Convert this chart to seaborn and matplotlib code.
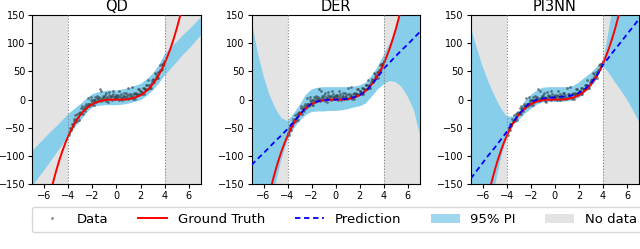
import matplotlib
matplotlib.use("Agg")
import matplotlib.pyplot as plt
import seaborn as sns
import pandas as pd
from matplotlib.lines import Line2D
from matplotlib.patches import Patch

# noisy training samples (same in every panel)
x_a = [-3.95, -3.85, -3.75, -3.65, -3.55, -3.45, -3.35, -3.25, -3.15, -3.05,
       -2.95, -2.85, -2.75, -2.65, -2.55, -2.45, -2.35, -2.25, -2.15, -2.05,
       -1.95, -1.85, -1.75, -1.65, -1.55, -1.45, -1.35, -1.25, -1.15, -1.05,
       -0.95, -0.85, -0.75, -0.65, -0.55, -0.45, -0.35, -0.25, -0.15, -0.05,
       0.05, 0.15, 0.25, 0.35, 0.45, 0.55, 0.65, 0.75, 0.85, 0.95,
       1.05, 1.15, 1.25, 1.35, 1.45, 1.55, 1.65, 1.75, 1.85, 1.95,
       2.05, 2.15, 2.25, 2.35, 2.45, 2.55, 2.65, 2.75, 2.85, 2.95,
       3.05, 3.15, 3.25, 3.35, 3.45, 3.55, 3.65, 3.75, 3.85, 3.95]
y_a = [-58.6, -50.1, -54.7, -43.6, -34.7, -40.1, -33.6, -26.3, -35.3, -22.4,
       -23.7, -11.2, -15.8, -19.6, -7.6, -11.7, -7.0, -11.4, 4.1, -4.6,
       -0.4, -9.3, -0.4, 6.5, -1.7, 5.0, 1.5, 16.1, -0.5, 4.8,
       8.1, -2.6, 2.6, 12.7, 4.8, 6.9, 0.0, 10.0, 4.0, 6.0,
       2.0, 8.0, 15.0, 3.0, -0.9, 6.2, 11.3, 4.4, 7.6, 1.9,
       10.2, 6.5, 22.0, 4.5, 9.1, 0.7, 12.5, 9.4, 18.3, 10.4,
       15.6, 9.9, 21.4, 18.0, 16.7, 25.6, 34.6, 24.8, 21.2, 31.7,
       36.4, 34.3, 45.3, 38.6, 48.1, 49.7, 61.6, 54.7, 63.1, 65.6]
x_b = [-3.91, -3.81, -3.71, -3.61, -3.51, -3.41, -3.31, -3.21, -3.11, -3.01,
       -2.91, -2.81, -2.71, -2.61, -2.51, -2.41, -2.31, -2.21, -2.11, -2.01,
       -1.91, -1.81, -1.71, -1.61, -1.51, -1.41, -1.31, -1.21, -1.11, -1.01,
       -0.91, -0.81, -0.71, -0.61, -0.51, -0.41, -0.31, -0.21, -0.11, -0.01,
       0.09, 0.19, 0.29, 0.39, 0.49, 0.59, 0.69, 0.79, 0.89, 0.99,
       1.09, 1.19, 1.29, 1.39, 1.49, 1.59, 1.69, 1.79, 1.89, 1.99,
       2.09, 2.19, 2.29, 2.39, 2.49, 2.59, 2.69, 2.79, 2.89, 2.99,
       3.09, 3.19, 3.29, 3.39, 3.49, 3.59, 3.69, 3.79, 3.89, 3.99]
y_b = [-62.6, -52.1, -43.7, -46.6, -38.7, -28.1, -37.6, -30.3, -24.3, -25.4,
       -15.7, -25.2, -14.8, -10.6, -15.6, 2.3, -8.0, -8.4, -0.9, -9.6,
       -1.4, 4.7, -3.4, 2.5, 0.3, 19.0, -2.5, 3.1, 6.5, 1.8,
       11.1, 5.4, -3.4, 8.7, 1.8, 6.9, 15.0, 4.0, 1.0, 8.0,
       5.0, -1.0, 7.0, 10.0, 3.1, 6.2, 0.3, 12.4, 4.6, 19.9,
       3.2, 9.5, 7.0, 0.5, 12.1, 9.7, 7.5, 19.4, 7.3, 14.4,
       12.6, 19.9, 10.4, 19.0, 26.7, 19.6, 26.6, 20.8, 28.2, 34.7,
       30.4, 47.3, 40.3, 41.6, 39.1, 52.7, 51.6, 63.7, 62.1, 68.6]

# ground truth curve
truth_x = [-5.5, -5.25, -5.0, -4.75, -4.5, -4.25, -4.0, -3.75, -3.5, -3.25,
           -3.0, -2.75, -2.5, -2.25, -2.0, -1.75, -1.5, -1.25, -1.0, -0.75,
           -0.5, -0.25, 0.0, 0.25, 0.5, 0.75, 1.0, 1.25, 1.5, 1.75,
           2.0, 2.25, 2.5, 2.75, 3.0, 3.25, 3.5, 3.75, 4.0, 4.25,
           4.5, 4.75, 5.0, 5.25, 5.5]
truth_y = [-166.4, -144.7, -125.0, -107.2, -91.1, -76.8, -64.0, -52.7, -42.9, -34.3,
           -27.0, -20.8, -15.6, -11.4, -8.0, -5.4, -3.4, -2.0, -1.0, -0.4,
           -0.1, 0.0, 0.0, 0.0, 0.1, 0.4, 1.0, 2.0, 3.4, 5.4,
           8.0, 11.4, 15.6, 20.8, 27.0, 34.3, 42.9, 52.7, 64.0, 76.8,
           91.1, 107.2, 125.0, 144.7, 166.4]

# model outputs on a common grid
grid_x = [-7, -6.5, -6, -5.5, -5, -4.5, -4, -3.5, -3, -2.5, -2, -1.5, -1, -0.5, 0,
          0.5, 1, 1.5, 2, 2.5, 3, 3.5, 4, 4.5, 5, 5.5, 6, 6.5, 7]

qd_upper = [-89, -78, -67, -56, -46, -35, -24, -15, -6.5, 3, 11, 14, 16, 17, 17,
            19, 21, 25, 29, 37, 47, 62, 82, 93, 104, 115, 125, 136, 147]
qd_lower = [-152, -137, -123, -108, -93, -78, -63, -48, -36, -22, -12.5, -10, -9, -9, -9,
            -8, -6, -3, 0, 8, 17, 30, 44, 56, 68, 80, 91, 103, 115]

der_upper = [141, 85, 42, 8, -16, -33, -38, -25, -10, 8, 18, 21, 22, 22, 22,
             22, 22, 23, 25, 30, 42, 58, 79, 100, 125, 160, 210, 270, 340]
der_lower = [-300, -270, -240, -190, -150, -105, -72, -52, -38, -28, -22, -21, -21, -20, -20,
             -19, -17, -14, -12, -7, 5, 18, 27, 33, 31, 22, 5, -18, -62]
der_pred = [-116, -105, -95, -84, -73, -63, -52, -40, -27, -15, -7, -3, -1, 0, 0,
            0.5, 1.5, 4, 8, 15, 27, 40, 55, 66, 77, 88, 98, 109, 120]

pi3nn_upper = [129, 92, 58, 30, 6, -15, -30, -30, -22, -3, 8, 16, 21, 22, 22,
               22, 22, 24, 30, 39, 47, 58, 64, 125, 190, 250, 320, 390, 460]
pi3nn_lower = [-350, -300, -250, -190, -155, -105, -66, -45, -36, -25, -17, -9, -5, -4, -4,
               -4, -3, -1, 3, 12, 22, 36, 60, 47, 31, 16, 0, -19, -39]
pi3nn_pred = [-140, -126, -112, -98, -85, -71, -57, -40, -27, -14, -5, 0, 2, 3, 4,
              5, 6, 8, 12, 19, 29, 43, 62, 75, 89, 102, 116, 129, 143]

titles = ["QD", "DER", "PI3NN"]
uppers = [qd_upper, der_upper, pi3nn_upper]
lowers = [qd_lower, der_lower, pi3nn_lower]
preds = [None, der_pred, pi3nn_pred]

band_color = "#87ceeb"
nodata_color = "#e3e3e3"

data_df = pd.DataFrame({"x": x_a + x_b, "y": y_a + y_b})
truth_df = pd.DataFrame({"x": truth_x, "y": truth_y})

fig = plt.figure(figsize=(6.4, 2.49), dpi=100)
lefts = [0.0505, 0.393, 0.7355]

for i, title in enumerate(titles):
    ax = fig.add_axes([lefts[i], 0.26, 0.263, 0.68])
    ax.axvspan(-7, -4, color=nodata_color, lw=0, zorder=0)
    ax.axvspan(4, 7, color=nodata_color, lw=0, zorder=0)
    ax.fill_between(grid_x, lowers[i], uppers[i], color=band_color, lw=0, zorder=1)
    sns.scatterplot(data=data_df, x="x", y="y", ax=ax, s=4, color="#2a3a40",
                    alpha=0.6, linewidth=0, zorder=2)
    sns.lineplot(data=truth_df, x="x", y="y", ax=ax, color="red", lw=1.4,
                 sort=False, zorder=3)
    if preds[i] is not None:
        sns.lineplot(x=grid_x, y=preds[i], ax=ax, color="blue", lw=1.3,
                     linestyle=(0, (3, 2)), sort=False, zorder=4)
    ax.axvline(-4, color="gray", ls=":", lw=0.8, zorder=5)
    ax.axvline(4, color="gray", ls=":", lw=0.8, zorder=5)
    ax.set_xlim(-7, 7)
    ax.set_ylim(-150, 150)
    ax.set_xticks([-6, -4, -2, 0, 2, 4, 6])
    ax.set_yticks([-150, -100, -50, 0, 50, 100, 150])
    ax.tick_params(labelsize=7, length=3, pad=2)
    ax.set_xlabel("")
    ax.set_ylabel("")
    ax.set_title(title, fontsize=10.5, pad=3)

handles = [
    Line2D([], [], marker=".", ls="", color="#888888", markersize=2),
    Line2D([], [], color="red", lw=1.4),
    Line2D([], [], color="blue", lw=1.3, ls=(0, (3, 2))),
    Patch(facecolor=band_color, alpha=0.8, edgecolor="none"),
    Patch(facecolor=nodata_color, edgecolor="none"),
]
labels = ["Data", "Ground Truth", "Prediction", "95% PI", "No data"]
fig.legend(handles, labels, loc="upper center", bbox_to_anchor=(0.527, 0.195),
           ncol=5, fontsize=9.5, frameon=True, handlelength=2.2,
           columnspacing=2.25, borderpad=0.45)

fig.savefig("out.png", dpi=100)
